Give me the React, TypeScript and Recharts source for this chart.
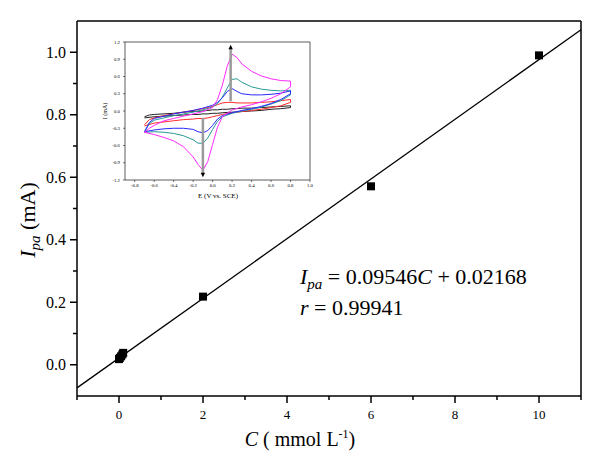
import {
  ComposedChart, LineChart, Line, Scatter, XAxis, YAxis, ReferenceLine,
} from 'recharts'

const SERIF = '"Liberation Serif", "Times New Roman", serif'

// main calibration data
const C_VALUES = [0, 0.02, 0.05, 0.08, 0.1, 2, 6, 10]
const IPA_VALUES = [0.018, 0.022, 0.027, 0.033, 0.038, 0.218, 0.571, 0.99]
const FIT_C = [-1, 11]
const FIT_I = [-0.074, 1.072]
const X_TICKS = [-1, 0, 1, 2, 3, 4, 5, 6, 7, 8, 9, 10, 11]
const Y_TICKS = [0, 0.1, 0.2, 0.3, 0.4, 0.5, 0.6, 0.7, 0.8, 0.9, 1.0]

// inset: cyclic voltammograms (forward sweep then reverse sweep)
const CV_E = [
  -0.7, -0.65, -0.6, -0.5, -0.4, -0.3, -0.2, -0.1, 0, 0.05, 0.1, 0.15, 0.2, 0.25, 0.3, 0.4, 0.5, 0.6, 0.7, 0.8,
  0.8, 0.7, 0.6, 0.5, 0.4, 0.3, 0.2, 0.1, 0.05, 0, -0.05, -0.1, -0.15, -0.2, -0.3, -0.4, -0.5, -0.6, -0.7,
]
const CV_BLACK = [
  -0.1, -0.07, -0.06, -0.05, -0.04, -0.02, -0.01, 0, 0.02, 0.02, 0.03, 0.03, 0.04, 0.04, 0.05, 0.05, 0.06, 0.07, 0.08, 0.09,
  0.06, 0.04, 0.03, 0.01, 0, -0.01, -0.02, -0.03, -0.04, -0.04, -0.05, -0.05, -0.06, -0.06, -0.07, -0.08, -0.09, -0.1, -0.12,
]
const CV_RED = [
  -0.24, -0.15, -0.12, -0.08, -0.05, -0.02, 0.01, 0.04, 0.08, 0.11, 0.14, 0.15, 0.15, 0.14, 0.14, 0.14, 0.15, 0.16, 0.18, 0.2,
  0.15, 0.09, 0.06, 0.03, 0.01, -0.01, -0.03, -0.06, -0.08, -0.1, -0.12, -0.13, -0.13, -0.14, -0.15, -0.17, -0.19, -0.21, -0.26,
]
const CV_BLUE = [
  -0.36, -0.2, -0.13, -0.09, -0.05, -0.02, 0.01, 0.05, 0.1, 0.15, 0.23, 0.34, 0.39, 0.34, 0.3, 0.28, 0.28, 0.29, 0.31, 0.35,
  0.3, 0.2, 0.13, 0.08, 0.04, 0.01, -0.03, -0.08, -0.14, -0.25, -0.34, -0.38, -0.36, -0.32, -0.3, -0.3, -0.31, -0.33, -0.36,
]
const CV_TEAL = [
  -0.37, -0.22, -0.16, -0.12, -0.08, -0.05, -0.02, 0.02, 0.07, 0.13, 0.24, 0.4, 0.55, 0.56, 0.5, 0.42, 0.38, 0.36, 0.35, 0.36,
  0.28, 0.18, 0.12, 0.07, 0.03, 0, -0.04, -0.1, -0.18, -0.32, -0.47, -0.56, -0.56, -0.5, -0.43, -0.39, -0.37, -0.36, -0.37,
]
const CV_MAGENTA = [
  -0.37, -0.3, -0.25, -0.17, -0.13, -0.09, -0.05, -0.01, 0.06, 0.2, 0.45, 0.78, 0.99, 0.93, 0.82, 0.69, 0.61, 0.56, 0.53, 0.52,
  0.42, 0.3, 0.22, 0.16, 0.11, 0.07, 0.02, -0.1, -0.28, -0.58, -0.88, -1.03, -0.93, -0.8, -0.62, -0.52, -0.46, -0.41, -0.37,
]
const ARROW_UP_E = [0.185, 0.185]
const ARROW_UP_I = [0.17, 1.1]
const ARROW_DOWN_E = [-0.1, -0.1]
const ARROW_DOWN_I = [-0.12, -1.1]
const INSET_X_TICKS = [-0.8, -0.6, -0.4, -0.2, 0, 0.2, 0.4, 0.6, 0.8, 1.0]
const INSET_Y_TICKS = [-1.2, -0.9, -0.6, -0.3, 0, 0.3, 0.6, 0.9, 1.2]

const MainXTick = (props: any) => {
  const { x, y, payload } = props
  const v = payload.value
  const major = v >= 0 && v <= 10 && v % 2 === 0
  return (
    <g>
      <line x1={x} x2={x} y1={y} y2={y + (major ? 7 : 4)} stroke="#000" strokeWidth={1.5} />
      {major && (
        <text x={x} y={y + 23} textAnchor="middle" fontSize={13} fontFamily={SERIF} fill="#000">{v}</text>
      )}
    </g>
  )
}

const MainYTick = (props: any) => {
  const { x, y, payload } = props
  const v = payload.value
  const major = Math.round(v * 10) % 2 === 0
  return (
    <g>
      <line x1={x - (major ? 7 : 4)} x2={x} y1={y} y2={y} stroke="#000" strokeWidth={1.5} />
      {major && (
        <text x={x - 11} y={y} dy="0.34em" textAnchor="end" fontSize={16} fontFamily={SERIF} fill="#000">
          {v.toFixed(1)}
        </text>
      )}
    </g>
  )
}

const InsetXTick = (props: any) => {
  const { x, y, payload } = props
  return (
    <g>
      <line x1={x} x2={x} y1={y} y2={y + 2} stroke="#333" strokeWidth={0.7} />
      <text x={x} y={y + 7} textAnchor="middle" fontSize={4.8} fontFamily={SERIF} fill="#000">
        {payload.value === 0 ? '0.0' : payload.value.toFixed(1)}
      </text>
    </g>
  )
}

const InsetYTick = (props: any) => {
  const { x, y, payload } = props
  return (
    <g>
      <line x1={x - 2} x2={x} y1={y} y2={y} stroke="#333" strokeWidth={0.7} />
      <text x={x - 5} y={y} dy="0.34em" textAnchor="end" fontSize={4.8} fontFamily={SERIF} fill="#000">
        {payload.value === 0 ? '0.0' : payload.value.toFixed(1)}
      </text>
    </g>
  )
}

const Square = (props: any) => {
  const { cx, cy } = props
  return <rect x={cx - 4} y={cy - 4} width={8} height={8} fill="#000" />
}

const arrowHead = (up: boolean) => (p: any) => {
  if (p.index !== 1) return <g key={`a${p.index}`} />
  const { cx, cy } = p
  const pts = up
    ? `${cx},${cy - 3} ${cx - 2.2},${cy + 1.5} ${cx + 2.2},${cy + 1.5}`
    : `${cx},${cy + 3} ${cx - 2.2},${cy - 1.5} ${cx + 2.2},${cy - 1.5}`
  return <polygon key="head" points={pts} fill="#000" />
}

const cv = (vals: number[]) => CV_E.map((e, k) => ({ e, i: vals[k] }))

export default function App() {
  const fit = FIT_C.map((c, k) => ({ c, i: FIT_I[k] }))
  const points = C_VALUES.map((c, k) => ({ c, i: IPA_VALUES[k] }))
  const arrowUp = ARROW_UP_E.map((e, k) => ({ e, i: ARROW_UP_I[k] }))
  const arrowDown = ARROW_DOWN_E.map((e, k) => ({ e, i: ARROW_DOWN_I[k] }))

  const curves = [
    { name: 'black', vals: CV_BLACK, color: '#222222' },
    { name: 'red', vals: CV_RED, color: '#ff2a2a' },
    { name: 'teal', vals: CV_TEAL, color: '#2a9a9a' },
    { name: 'blue', vals: CV_BLUE, color: '#2a2aff' },
    { name: 'magenta', vals: CV_MAGENTA, color: '#ff2aff' },
  ]

  return (
    <div style={{ position: 'absolute', left: 0, top: 0, width: 600, height: 473, background: '#fff', fontFamily: SERIF }}>
      <ComposedChart width={600} height={473} margin={{ top: 21, right: 19, bottom: 0, left: 0 }}>
        <XAxis
          type="number" dataKey="c" domain={[-1, 11]} ticks={X_TICKS} interval={0}
          height={77} tickSize={0} tickMargin={0} tickLine={false}
          axisLine={{ stroke: '#000', strokeWidth: 1.5 }} tick={MainXTick}
        />
        <YAxis
          type="number" dataKey="i" domain={[-0.1, 1.1]} ticks={Y_TICKS} interval={0}
          width={77} tickSize={0} tickMargin={0} tickLine={false}
          axisLine={{ stroke: '#000', strokeWidth: 1.5 }} tick={MainYTick}
        />
        <ReferenceLine y={1.1} stroke="#000" strokeWidth={1.5} />
        <ReferenceLine x={11} stroke="#000" strokeWidth={1.5} />
        <Line data={fit} dataKey="i" type="linear" stroke="#000" strokeWidth={1.3} dot={false} isAnimationActive={false} />
        <Scatter data={points} dataKey="i" shape={Square} isAnimationActive={false} />
      </ComposedChart>

      <div style={{ position: 'absolute', left: 95, top: 35 }}>
        <LineChart width={230} height={175} margin={{ top: 7, right: 15, bottom: 15, left: 8 }}>
          <XAxis
            type="number" dataKey="e" domain={[-0.9, 1.0]} ticks={INSET_X_TICKS} interval={0}
            height={15} tickSize={0} tickMargin={0} tickLine={false}
            axisLine={{ stroke: '#333', strokeWidth: 0.8 }} tick={InsetXTick}
          />
          <YAxis
            type="number" dataKey="i" domain={[-1.2, 1.2]} ticks={INSET_Y_TICKS} interval={0}
            width={22} tickSize={0} tickMargin={0} tickLine={false}
            axisLine={{ stroke: '#333', strokeWidth: 0.8 }} tick={InsetYTick}
          />
          <ReferenceLine y={1.2} stroke="#333" strokeWidth={0.8} />
          <ReferenceLine x={1.0} stroke="#333" strokeWidth={0.8} />
          {curves.map((cu) => (
            <Line
              key={cu.name} data={cv(cu.vals)} dataKey="i" type="linear"
              stroke={cu.color} strokeWidth={1} dot={false} isAnimationActive={false}
            />
          ))}
          <Line data={arrowUp} dataKey="i" type="linear" stroke="#9a9a9a" strokeWidth={2.5} dot={arrowHead(true)} isAnimationActive={false} />
          <Line data={arrowDown} dataKey="i" type="linear" stroke="#9a9a9a" strokeWidth={2.5} dot={arrowHead(false)} isAnimationActive={false} />
        </LineChart>
      </div>

      <svg width={600} height={473} style={{ position: 'absolute', left: 0, top: 0, pointerEvents: 'none' }} fontFamily={SERIF}>
        {/* axis titles */}
        <text x={300} y={446} textAnchor="middle" fontSize={20} fill="#000">
          <tspan fontStyle="italic">C</tspan>
          <tspan> ( mmol L</tspan>
          <tspan fontSize={12} dy={-8}>-1</tspan>
          <tspan dy={8}>)</tspan>
        </text>
        <text transform="translate(35,220) rotate(-90)" textAnchor="middle" fontSize={22} fill="#000">
          <tspan fontStyle="italic">I</tspan>
          <tspan fontStyle="italic" fontSize={15} dy={5}>pa</tspan>
          <tspan dy={-5}> (mA)</tspan>
        </text>

        {/* regression */}
        <text x={300} y={284} fontSize={22} fill="#000">
          <tspan fontStyle="italic">I</tspan>
          <tspan fontStyle="italic" fontSize={15} dy={5}>pa</tspan>
          <tspan dy={-5}> = 0.09546</tspan>
          <tspan fontStyle="italic">C</tspan>
          <tspan> + 0.02168</tspan>
        </text>
        <text x={300} y={315} fontSize={22} fill="#000">
          <tspan fontStyle="italic">r</tspan>
          <tspan> = 0.99941</tspan>
        </text>

        {/* inset titles */}
        <text x={218} y={198} textAnchor="middle" fontSize={7} fill="#000">E (V vs. SCE)</text>
        <text transform="translate(107,111) rotate(-90)" textAnchor="middle" fontSize={6} fill="#000">I (mA)</text>
      </svg>
    </div>
  )
}
